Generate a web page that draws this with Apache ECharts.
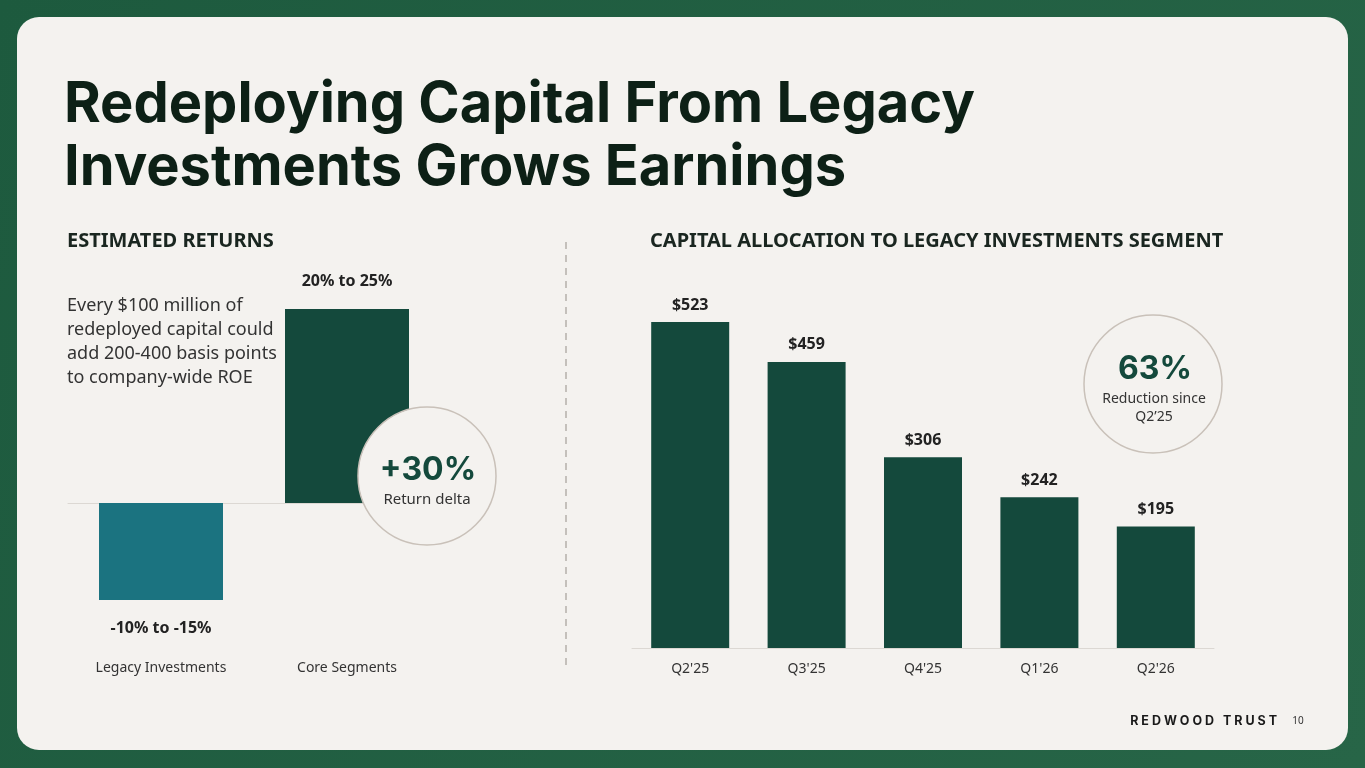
<!DOCTYPE html>
<html>
<head>
<meta charset="utf-8">
<script src="https://cdn.jsdelivr.net/npm/echarts@6/dist/echarts.min.js"></script>
<style>
html,body{margin:0;padding:0;background:#215c42;}
#c{width:1365px;height:768px;}
</style>
</head>
<body>
<div id="c"></div>
<script>
// Left chart: estimated returns
const returnCategories = ['Legacy Investments', 'Core Segments'];
const returnValues = [-10, 20];
const returnLabels = ['-10% to -15%', '20% to 25%'];

// Right chart: capital allocation to legacy investments segment ($ millions)
const quarters = ["Q2'25", "Q3'25", "Q4'25", "Q1'26", "Q2'26"];
const allocationValues = [523, 459, 306, 242, 195];

const titleLines = ['Redeploying Capital From Legacy', 'Investments Grows Earnings'];

const DARK = '#14493c';
const TEAL = '#1b7380';
const CARD = '#f4f2ef';
const SANS = '"Source Sans Pro", "Noto Sans", "Open Sans", sans-serif';
const GEO = 'Inter, Lato, "Noto Sans", sans-serif';

const chart = echarts.init(document.getElementById('c'));

const option = {
  backgroundColor: new echarts.graphic.LinearGradient(0, 0, 1, 1, [
    {offset: 0, color: '#1d5a3e'}, {offset: 1, color: '#276547'}
  ]),
  animation: false,
  grid: [
    {left: 68, width: 372, top: 260.5, bottom: 119.5},
    {left: 632, width: 582, top: 274, bottom: 120}
  ],
  xAxis: [
    {gridIndex: 0, type: 'category', data: returnCategories,
     axisLine: {onZero: true, lineStyle: {color: '#dcd8d3', width: 1}},
     axisTick: {show: false}, axisLabel: {show: false}},
    {gridIndex: 0, type: 'category', data: returnCategories, position: 'bottom',
     axisLine: {show: false, onZero: false}, axisTick: {show: false},
     axisLabel: {color: '#333', fontFamily: SANS, fontSize: 14, margin: 13}},
    {gridIndex: 1, type: 'category', data: quarters,
     axisLine: {lineStyle: {color: '#dcd8d3', width: 1}},
     axisTick: {show: false},
     axisLabel: {color: '#333', fontFamily: SANS, fontSize: 14, margin: 14}}
  ],
  yAxis: [
    {gridIndex: 0, type: 'value', min: -15, max: 25, show: false, splitLine: {show: false}},
    {gridIndex: 1, type: 'value', min: 0, max: 600, show: false, splitLine: {show: false}}
  ],
  series: [
    {
      type: 'bar', xAxisIndex: 0, yAxisIndex: 0, barWidth: 124,
      data: returnValues.map((v, i) => ({
        value: v,
        itemStyle: {color: v < 0 ? TEAL : DARK},
        label: {position: v < 0 ? 'bottom' : 'top'}
      })),
      label: {
        show: true, distance: 20, color: '#222', fontFamily: SANS,
        fontSize: 16, fontWeight: 'bold',
        formatter: p => returnLabels[p.dataIndex]
      }
    },
    {
      type: 'bar', xAxisIndex: 2, yAxisIndex: 1, barWidth: 78,
      data: allocationValues,
      itemStyle: {color: DARK},
      label: {
        show: true, position: 'top', distance: 9, color: '#222',
        fontFamily: SANS, fontSize: 16, fontWeight: 'bold',
        formatter: p => '$' + p.value
      }
    }
  ],
  graphic: [
    {type: 'rect', z: -10, silent: true,
     shape: {x: 17, y: 17, width: 1331, height: 733, r: 22},
     style: {fill: CARD}},
    {type: 'text', z: 50, left: 64, top: 77,
     style: {text: titleLines[0], fill: '#0d2016', font: 'bold 56px ' + GEO}},
    {type: 'text', z: 50, left: 64, top: 140,
     style: {text: titleLines[1], fill: '#0d2016', font: 'bold 56px ' + GEO}},
    {type: 'text', z: 50, left: 67, top: 231,
     style: {text: 'ESTIMATED RETURNS', fill: '#1a2620', font: 'bold 20px ' + SANS}},
    {type: 'text', z: 50, left: 650, top: 231,
     style: {text: 'CAPITAL ALLOCATION TO LEGACY INVESTMENTS SEGMENT', fill: '#1a2620', font: 'bold 20px ' + SANS}},
    {type: 'text', z: 50, left: 67, top: 294,
     style: {text: 'Every $100 million of\nredeployed capital could\nadd 200-400 basis points\nto company-wide ROE',
             fill: '#333', font: '18px ' + SANS, lineHeight: 24}},
    {type: 'line', z: 50, shape: {x1: 566, y1: 242, x2: 566, y2: 668},
     style: {stroke: '#c4c0bb', lineWidth: 2, lineDash: [7, 6]}},
    // left circle
    {type: 'circle', z: 60, shape: {cx: 427, cy: 476, r: 69},
     style: {fill: CARD, stroke: '#c9c1b9', lineWidth: 1.5}},
    {type: 'text', z: 61, x: 428, y: 470,
     style: {text: '+30%', fill: DARK, font: 'bold 32px ' + GEO, align: 'center', verticalAlign: 'middle'}},
    {type: 'text', z: 61, x: 427, y: 500,
     style: {text: 'Return delta', fill: '#333', font: '15px ' + SANS, align: 'center', verticalAlign: 'middle'}},
    // right circle
    {type: 'circle', z: 60, shape: {cx: 1153, cy: 384, r: 69},
     style: {fill: CARD, stroke: '#c9c1b9', lineWidth: 1.5}},
    {type: 'text', z: 61, x: 1155, y: 369,
     style: {text: '63%', fill: DARK, font: 'bold 32px ' + GEO, align: 'center', verticalAlign: 'middle'}},
    {type: 'text', z: 61, x: 1154, y: 399,
     style: {text: 'Reduction since', fill: '#333', font: '14px ' + SANS, align: 'center', verticalAlign: 'middle'}},
    {type: 'text', z: 61, x: 1154, y: 417,
     style: {text: 'Q2\u201925', fill: '#333', font: '14px ' + SANS, align: 'center', verticalAlign: 'middle'}},
    // footer
    {type: 'text', z: 50, x: 1277, y: 721,
     style: {text: 'R E D W O O D   T R U S T', fill: '#1a1a1a', font: 'bold 12.5px ' + GEO, align: 'right', verticalAlign: 'middle'}},
    {type: 'text', z: 50, x: 1298, y: 721,
     style: {text: '10', fill: '#333', font: '10px ' + SANS, align: 'center', verticalAlign: 'middle'}}
  ]
};
chart.setOption(option);
</script>
</body>
</html>
